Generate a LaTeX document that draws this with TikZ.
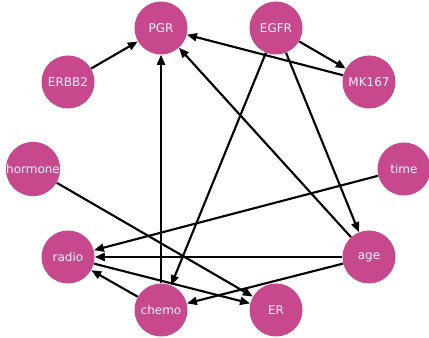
\documentclass[tikz,border=0pt]{standalone}
\usepackage{fontspec}
\setmainfont{DejaVu Sans}
\usetikzlibrary{arrows.meta}
\definecolor{dagpink}{RGB}{200,72,142}

\begin{document}
\begin{tikzpicture}[x=0.75pt, y=-0.75pt]
  \tikzset{
    var/.style={circle, fill=dagpink, minimum size=39.75pt, inner sep=0pt, text=white!94!dagpink, font=\fontsize{9}{10}\selectfont},
    dep/.style={-{Triangle[length=7.5pt, width=6pt]}, line width=1.6pt}
  }
  \useasboundingbox (0,0) rectangle (429,338);

  % variables of the graph
  \node[var] (PGR)     at (161,28)  {PGR};
  \node[var] (EGFR)    at (276,28)  {EGFR};
  \node[var] (ERBB2)   at (68,82)   {ERBB2};
  \node[var] (MK167)   at (369,82)  {MK167};
  \node[var] (hormone) at (33,169)  {hormone};
  \node[var] (time)    at (404,169) {time};
  \node[var] (radio)   at (68,257)  {radio};
  \node[var] (age)     at (369,257) {age};
  \node[var] (chemo)   at (161,310) {chemo};
  \node[var] (ER)      at (276,310) {ER};

  % directed edges
  \foreach \a/\b in {ERBB2/PGR, EGFR/MK167, MK167/PGR, age/PGR, chemo/PGR,
                     EGFR/chemo, EGFR/age, hormone/ER, time/radio, age/radio,
                     radio/ER, age/chemo, chemo/radio} {
    \draw[dep] (\a) -- (\b);
  }
\end{tikzpicture}
\end{document}
